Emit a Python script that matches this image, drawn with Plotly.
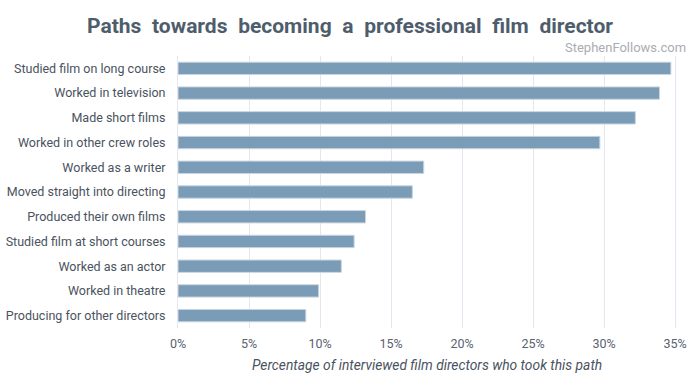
import plotly.graph_objects as go

categories = [
    "Studied film on long course",
    "Worked in television",
    "Made short films",
    "Worked in other crew roles",
    "Worked as a writer",
    "Moved straight into directing",
    "Produced their own films",
    "Studied film at short courses",
    "Worked as an actor",
    "Worked in theatre",
    "Producing for other directors",
]
values = [34.7, 33.9, 32.2, 29.7, 17.3, 16.5, 13.2, 12.4, 11.5, 9.9, 9.0]
tick_vals = [0, 5, 10, 15, 20, 25, 30, 35]
tick_text = ["0%", "5%", "10%", "15%", "20%", "25%", "30%", "35%"]

title_words = ["Paths", "towards", "becoming", "a", "professional", "film", "director"]

fig = go.Figure(go.Bar(
    x=values,
    y=categories,
    orientation="h",
    marker=dict(color="#7a9cb7", line=dict(color="#c9d6e2", width=1)),
    hoverinfo="x+y",
))

fig.update_layout(
    width=700, height=385,
    paper_bgcolor="white", plot_bgcolor="white",
    margin=dict(l=178, r=22, t=56, b=57, autoexpand=False),
    bargap=0.5,
    showlegend=False,
    font=dict(family="Roboto, sans-serif", color="#4a5360"),
    title=dict(
        text="<b>" + "\u2002".join(title_words) + "</b>",
        x=0.5, xanchor="center", y=0.934, yanchor="middle",
        font=dict(family="Roboto, sans-serif", size=21, color="#4e5d6c"),
    ),
    xaxis=dict(
        range=[0, 35.2],
        tickvals=tick_vals, ticktext=tick_text,
        showgrid=True, gridcolor="#e4e7ef", gridwidth=1,
        zeroline=False, showline=False,
        tickfont=dict(size=12.5, color="#5a6270"),
        ticklabelstandoff=6,
        automargin=False,
        fixedrange=True,
    ),
    yaxis=dict(
        autorange="reversed",
        tickfont=dict(size=12.5, color="#4a5360"),
        ticks="", ticklen=0, ticklabelstandoff=9,
        showgrid=False, zeroline=False,
        showline=True, linecolor="#e4e7ef", linewidth=1,
        automargin=False,
        fixedrange=True,
    ),
    annotations=[
        dict(
            text="StephenFollows.com", xref="paper", yref="paper",
            x=(688 - 178) / 500, y=1.0305, xanchor="right", yanchor="middle", showarrow=False,
            font=dict(size=13, color="#a9adb3"),
        ),
        dict(
            text="<i>Percentage of interviewed film directors who took this path</i>",
            xref="paper", yref="paper", x=(427 - 178) / 500, y=-0.137,
            xanchor="center", yanchor="middle", showarrow=False,
            font=dict(size=13.8, color="#4a5360"),
        ),
    ],
)

fig.write_html("out.html", config={"displayModeBar": False},
               post_script="document.body.style.margin='0';")
